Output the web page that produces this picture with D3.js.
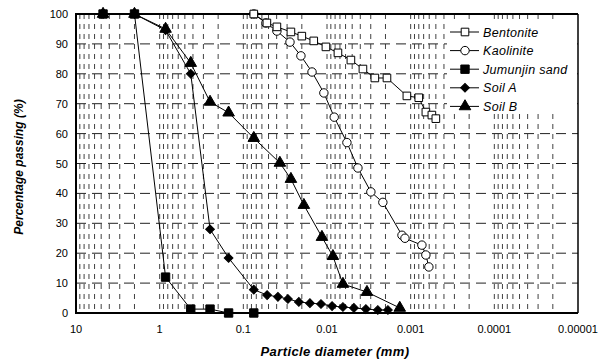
<!DOCTYPE html>
<html>
<head>
<meta charset="utf-8">
<script src="https://cdn.jsdelivr.net/npm/d3@7"></script>
<style>
  html, body { margin: 0; padding: 0; background: #fff; }
  svg { display: block; font-family: "Liberation Sans", Arial, sans-serif; }
</style>
</head>
<body>
<svg id="chart" width="609" height="360"></svg>
<script>
// particle diameters (mm) and percentage passing for each material
const bentoniteD = [0.075, 0.0523, 0.0397, 0.027, 0.02, 0.0144, 0.0103, 0.0074, 0.00518, 0.00372, 0.00268, 0.00192, 0.00111, 0.0008, 0.000658, 0.000558, 0.0005];
const bentoniteP = [100, 97, 95.7, 94, 92.6, 91, 89, 87, 84.6, 81.6, 78.6, 78.6, 72.6, 72, 67.2, 66.2, 65];

const kaoliniteD = [0.075, 0.0537, 0.0397, 0.0277, 0.0205, 0.0151, 0.0109, 0.0082, 0.00578, 0.00427, 0.00299, 0.00215, 0.00127, 0.00117, 0.000734, 0.000658, 0.000606];
const kaoliniteP = [100, 97, 94.3, 90.6, 86, 80.6, 73.6, 65.5, 57, 48.5, 40.5, 37, 26, 25, 22.7, 19.4, 15.4];

const jumunjinD = [4.75, 2, 0.85, 0.425, 0.25, 0.15, 0.075];
const jumunjinP = [100, 100, 12, 1.3, 1.3, 0, 0];

const soilAD = [4.75, 2, 0.85, 0.425, 0.25, 0.15, 0.075, 0.052, 0.0386, 0.0293, 0.0217, 0.016, 0.0118, 0.0087, 0.00645, 0.00477, 0.00343, 0.00247, 0.00187];
const soilAP = [100, 100, 94.6, 80, 28, 18.4, 7.8, 6.0, 5.4, 4.7, 3.7, 3.3, 3.0, 2.3, 2.0, 1.7, 1.3, 1.0, 1.0];

const soilBD = [4.75, 2, 0.85, 0.425, 0.25, 0.15, 0.075, 0.0366, 0.027, 0.0189, 0.0115, 0.0085, 0.00645, 0.00333, 0.00135];
const soilBP = [100, 100, 95, 83.6, 70.6, 67, 58.5, 50.2, 44.8, 36.1, 25.4, 19, 9.7, 7, 1.7];

const xTicks = [10, 1, 0.1, 0.01, 0.001, 0.0001, 0.00001];
const xTickLabels = ['10', '1', '0.1', '0.01', '0.001', '0.0001', '0.00001'];
const yTicks = [0, 10, 20, 30, 40, 50, 60, 70, 80, 90, 100];

const series = [
  { name: 'Bentonite', d: bentoniteD, p: bentoniteP, symbol: d3.symbolSquare, size: 58, rot: 0, fill: '#fff', z: 1 },
  { name: 'Kaolinite', d: kaoliniteD, p: kaoliniteP, symbol: d3.symbolCircle, size: 56, rot: 0, fill: '#fff', z: 0 },
  { name: 'Jumunjin sand', d: jumunjinD, p: jumunjinP, symbol: d3.symbolSquare, size: 70, rot: 0, fill: '#000', z: 4 },
  { name: 'Soil A', d: soilAD, p: soilAP, symbol: d3.symbolSquare, size: 38, rot: 45, fill: '#000', z: 2 },
  { name: 'Soil B', d: soilBD, p: soilBP, symbol: d3.symbolTriangle, size: 58, rot: 0, fill: '#000', z: 3 }
];

const plotL = 76, plotR = 578, plotT = 14, plotB = 313;
const svg = d3.select('#chart');

const x = d3.scaleLog().domain([10, 0.00001]).range([plotL, plotR]);
const y = d3.scaleLinear().domain([0, 100]).range([plotB, plotT]);

// vertical grid: every 1..9 step of every decade
const gridX = [];
for (let e = -5; e <= 0; e++) {
  for (let m = 1; m <= 9; m++) gridX.push(m * Math.pow(10, e));
}
svg.append('g')
  .selectAll('line')
  .data(gridX.filter((v) => v > 0.0000101 && v < 9.99))
  .join('line')
  .attr('x1', (d) => x(d)).attr('x2', (d) => x(d))
  .attr('y1', plotT).attr('y2', plotB)
  .attr('stroke', '#111')
  .attr('stroke-width', 0.8)
  .attr('stroke-dasharray', '5,5');

// horizontal dashed grid
svg.append('g')
  .selectAll('line')
  .data(yTicks.filter((v) => v > 0 && v < 100))
  .join('line')
  .attr('x1', plotL).attr('x2', plotR)
  .attr('y1', (d) => y(d)).attr('y2', (d) => y(d))
  .attr('stroke', '#222')
  .attr('stroke-width', 1)
  .attr('stroke-dasharray', '10,6');

// legend background hides the grid behind it
svg.append('rect')
  .attr('x', 447).attr('y', 21).attr('width', plotR - 448).attr('height', 93)
  .attr('fill', '#fff');

// frame
svg.append('line').attr('x1', plotL).attr('x2', plotR).attr('y1', plotT).attr('y2', plotT)
  .attr('stroke', '#000').attr('stroke-width', 2);
svg.append('line').attr('x1', plotR).attr('x2', plotR).attr('y1', plotT).attr('y2', plotB)
  .attr('stroke', '#000').attr('stroke-width', 1.5);
svg.append('line').attr('x1', plotL).attr('x2', plotL).attr('y1', plotT - 1).attr('y2', plotB + 1)
  .attr('stroke', '#000').attr('stroke-width', 2);
svg.append('line').attr('x1', plotL).attr('x2', plotR).attr('y1', plotB).attr('y2', plotB)
  .attr('stroke', '#000').attr('stroke-width', 2);

// axis labels
svg.append('g')
  .selectAll('text')
  .data(yTicks)
  .join('text')
  .attr('x', 68)
  .attr('y', (d) => y(d) + 4)
  .attr('text-anchor', 'end')
  .attr('font-size', 11)
  .text((d) => d);

svg.append('g')
  .selectAll('text')
  .data(xTicks)
  .join('text')
  .attr('x', (d) => x(d))
  .attr('y', 333)
  .attr('text-anchor', 'middle')
  .attr('font-size', 11)
  .text((d, i) => xTickLabels[i]);

svg.append('text')
  .attr('transform', 'translate(23,167) rotate(-90)')
  .attr('text-anchor', 'middle')
  .attr('font-size', 12)
  .attr('font-weight', 'bold')
  .attr('font-style', 'italic')
  .text('Percentage passing (%)');

svg.append('text')
  .attr('x', 335)
  .attr('y', 356)
  .attr('text-anchor', 'middle')
  .attr('font-size', 13)
  .attr('font-weight', 'bold')
  .attr('font-style', 'italic')
  .attr('letter-spacing', 0.4)
  .text('Particle diameter (mm)');

// series lines and markers
const line = d3.line().x((d) => x(d[0])).y((d) => y(d[1]));

series.forEach((s) => {
  const pts = s.d.map((v, i) => [v, s.p[i]]);
  svg.append('path')
    .datum(pts)
    .attr('d', line)
    .attr('fill', 'none')
    .attr('stroke', '#000')
    .attr('stroke-width', 1);
});

// sand markers sit on top of the soils where they share points
series.slice().sort((a, b) => a.z - b.z).forEach((s) => {
  const pts = s.d.map((v, i) => [v, s.p[i]]);
  svg.append('g')
    .selectAll('path')
    .data(pts)
    .join('path')
    .attr('transform', (d) => `translate(${x(d[0])},${y(d[1])}) rotate(${s.rot})`)
    .attr('d', d3.symbol().type(s.symbol).size(s.size))
    .attr('fill', s.fill)
    .attr('stroke', '#000')
    .attr('stroke-width', 1);
});

// legend
const legend = svg.append('g')
  .selectAll('g')
  .data(series)
  .join('g')
  .attr('transform', (d, i) => `translate(450,${32 + i * 18.6})`);

legend.append('line')
  .attr('x1', 0).attr('x2', 29)
  .attr('stroke', '#000').attr('stroke-width', 1);

legend.append('path')
  .attr('transform', (d) => `translate(15,0) rotate(${d.rot})`)
  .attr('d', (d) => d3.symbol().type(d.symbol).size(d.size)())
  .attr('fill', (d) => d.fill)
  .attr('stroke', '#000');

legend.append('text')
  .attr('x', 33)
  .attr('y', 4.5)
  .attr('font-size', 12.5)
  .attr('font-style', 'italic')
  .attr('letter-spacing', 0.3)
  .text((d) => d.name);
</script>
</body>
</html>
